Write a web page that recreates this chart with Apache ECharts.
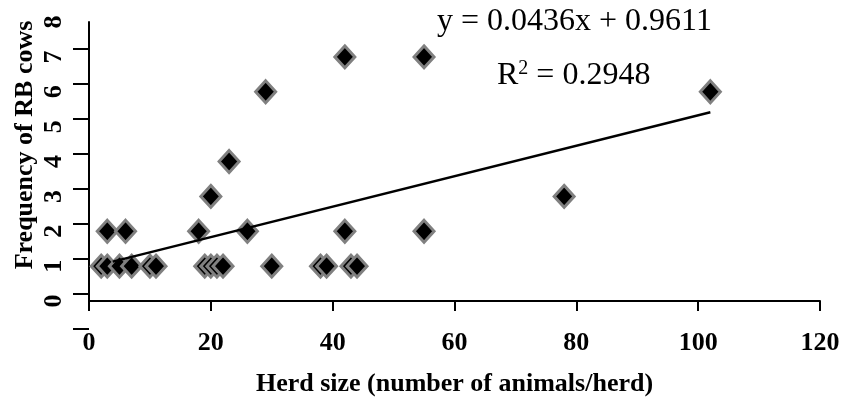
<!DOCTYPE html>
<html>
<head>
<meta charset="utf-8">
<script src="https://cdn.jsdelivr.net/npm/echarts@6/dist/echarts.min.js"></script>
<style>
html,body{margin:0;padding:0;background:#fff;}
#chart{width:844px;height:402px;}
</style>
</head>
<body>
<div id="chart"></div>
<script>
// Herd size (x) and frequency of RB cows (y)
const herdSize = [2, 3, 5, 7, 10, 11, 19, 20, 21, 22, 30, 38, 39, 43, 44,
                  3, 6, 18, 26, 42, 55,
                  20, 78, 23, 29, 102, 42, 55];
const rbFreq   = [1, 1, 1, 1, 1, 1, 1, 1, 1, 1, 1, 1, 1, 1, 1,
                  2, 2, 2, 2, 2, 2,
                  3, 3, 4, 6, 6, 7, 7];
// Trend line end points
const trendX = [3.9, 102];
const trendY = [1.13, 5.41];
const xTicks = [0, 20, 40, 60, 80, 100, 120];
const yTicks = [0, 1, 2, 3, 4, 5, 6, 7, 8];
const equationText = 'y = 0.0436x + 0.9611';
const r2Value = '0.2948';
const xTitle = 'Herd size (number of animals/herd)';
const yTitle = 'Frequency of RB cows';

const FONT = '"Liberation Serif", "Times New Roman", serif';
const chart = echarts.init(document.getElementById('chart'));

const scatterData = herdSize.map((x, i) => [x, rbFreq[i]]);
const trendData = trendX.map((x, i) => [x, trendY[i]]);

chart.setOption({
  animation: false,
  backgroundColor: '#ffffff',
  grid: [
    { left: 89, right: 24, top: 22, bottom: 100, containLabel: false },
    { left: 89, right: 24, top: 49, bottom: 73, containLabel: false }
  ],
  xAxis: [
    {
      type: 'value', gridIndex: 0,
      min: xTicks[0], max: xTicks[xTicks.length - 1], interval: xTicks[1] - xTicks[0],
      name: xTitle, nameLocation: 'middle', nameGap: 70,
      nameTextStyle: { fontFamily: FONT, fontWeight: 'bold', fontSize: 26, color: '#000' },
      axisLine: { show: true, lineStyle: { color: '#000', width: 2 } },
      axisTick: { show: true, length: 10, lineStyle: { color: '#000', width: 2 } },
      axisLabel: { fontFamily: FONT, fontWeight: 'bold', fontSize: 26, color: '#000', margin: 29 },
      splitLine: { show: false }
    },
    { type: 'value', gridIndex: 1, show: false, min: 0, max: 120 }
  ],
  yAxis: [
    {
      type: 'value', gridIndex: 0,
      min: yTicks[0], max: yTicks[yTicks.length - 1], interval: 1,
      axisLine: { show: true, lineStyle: { color: '#000', width: 2 } },
      axisTick: { show: false },
      axisLabel: { fontFamily: FONT, fontWeight: 'bold', fontSize: 26, color: '#000', rotate: 90, margin: 22 },
      splitLine: { show: false }
    },
    {
      type: 'value', gridIndex: 1,
      min: -1, max: 7, interval: 1,
      axisLine: { show: false },
      axisTick: { show: true, length: 16, lineStyle: { color: '#000', width: 2 } },
      axisLabel: { show: false },
      splitLine: { show: false }
    }
  ],
  series: [
    {
      type: 'scatter',
      xAxisIndex: 0, yAxisIndex: 0,
      data: scatterData,
      symbol: 'diamond',
      symbolSize: [20, 22],
      itemStyle: { color: '#000', borderColor: '#808080', borderWidth: 3, opacity: 1 },
      z: 3
    },
    {
      type: 'line',
      xAxisIndex: 0, yAxisIndex: 0,
      data: trendData,
      symbol: 'none',
      lineStyle: { color: '#000', width: 2.5 },
      z: 4
    }
  ],
  graphic: [
    {
      type: 'text',
      x: 25, y: 145, rotation: Math.PI / 2,
      style: { text: yTitle, align: 'center', verticalAlign: 'middle',
               font: 'bold 26px ' + FONT, fill: '#000' }
    },
    {
      type: 'text',
      x: 437, y: 22,
      style: { text: equationText, align: 'left', verticalAlign: 'middle',
               font: '32px ' + FONT, fill: '#000' }
    },
    {
      type: 'text',
      x: 497, y: 76,
      style: {
        text: 'R{sup|2} = ' + r2Value, align: 'left', verticalAlign: 'middle',
        font: '32px ' + FONT, fill: '#000',
        rich: { sup: { font: '20px ' + FONT, fill: '#000', verticalAlign: 'top', padding: [0, 0, 14, 0] } }
      }
    }
  ]
});
</script>
</body>
</html>
